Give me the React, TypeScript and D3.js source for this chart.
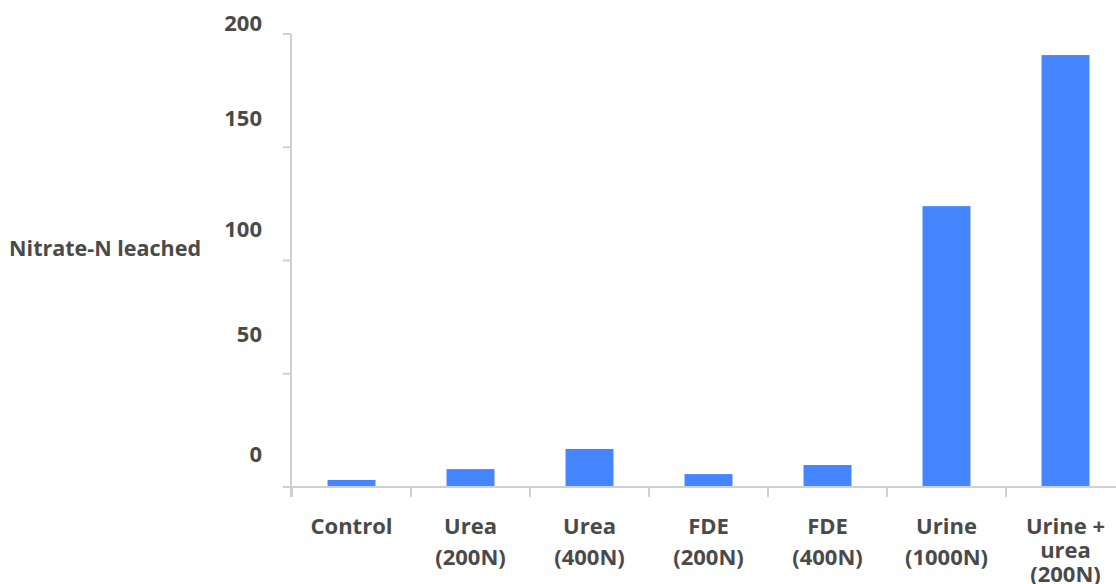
import React, { useEffect, useRef } from "react";
import * as d3 from "d3";

const categories = [
  ["Control"],
  ["Urea", "(200N)"],
  ["Urea", "(400N)"],
  ["FDE", "(200N)"],
  ["FDE", "(400N)"],
  ["Urine", "(1000N)"],
  ["Urine +", "urea", "(200N)"],
];
const values = [3.1, 7.9, 16.8, 5.7, 9.7, 124, 190.7];
const yTicks = [0, 50, 100, 150, 200];
const yTitle = "Nitrate-N leached";

const W = 1116;
const H = 584;
const FONT = "'Open Sans', 'DejaVu Sans', sans-serif";
const TEXT = "#4a4a4a";
const AXIS = "#d0d0d0";
const BAR = "#4586ff";
// label vertical offsets (layout) relative to tick position
const yLabelOffset: Record<number, number> = { 0: -34, 50: -41, 100: -33, 150: -30, 200: -12 };

export default function App() {
  const ref = useRef<SVGSVGElement>(null);
  useEffect(() => {
    const svg = d3.select(ref.current);
    svg.selectAll("*").remove();
    const x0 = 292;
    const step = 119;
    const x = d3
      .scaleBand<number>()
      .domain(d3.range(categories.length))
      .range([x0, x0 + step * categories.length])
      .paddingInner(0.597)
      .paddingOuter(0.2985);
    const y = d3.scaleLinear().domain([0, 200]).range([487, 34]);

    // y axis line
    svg.append("line").attr("x1", 291).attr("x2", 291).attr("y1", y(200)).attr("y2", 497)
      .attr("stroke", AXIS).attr("stroke-width", 2);
    // y ticks
    svg.selectAll(".yt").data(yTicks).enter().append("line")
      .attr("x1", 283).attr("x2", 291).attr("y1", (d) => y(d)).attr("y2", (d) => y(d))
      .attr("stroke", AXIS).attr("stroke-width", 2);
    svg.selectAll(".yl").data(yTicks).enter().append("text")
      .attr("x", 262).attr("y", (d) => y(d) + yLabelOffset[d])
      .attr("text-anchor", "end").attr("dominant-baseline", "central")
      .attr("font-family", FONT).attr("font-weight", 700).attr("font-size", 22)
      .attr("fill", TEXT).text((d) => String(d));

    // bars
    svg.selectAll(".bar").data(values).enter().append("rect")
      .attr("x", (_, i) => x(i)!).attr("width", x.bandwidth())
      .attr("y", (d) => y(d)).attr("height", (d) => y(0) - y(d))
      .attr("fill", BAR);

    // x axis
    svg.append("line").attr("x1", 283).attr("x2", W).attr("y1", y(0)).attr("y2", y(0))
      .attr("stroke", AXIS).attr("stroke-width", 2);
    const boundaries = d3.range(categories.length).map((i) => x0 + step * i);
    svg.selectAll(".xt").data(boundaries).enter().append("line")
      .attr("x1", (d) => d).attr("x2", (d) => d).attr("y1", y(0)).attr("y2", y(0) + 10)
      .attr("stroke", AXIS).attr("stroke-width", 2);

    // x labels
    categories.forEach((lines, i) => {
      const cx = x(i)! + x.bandwidth() / 2;
      const gap = lines.length > 2 ? 24 : 31;
      lines.forEach((ln, j) => {
        svg.append("text").attr("x", cx).attr("y", 525 + j * gap)
          .attr("text-anchor", "middle").attr("dominant-baseline", "central")
          .attr("font-family", FONT).attr("font-weight", 700).attr("font-size", 22)
          .attr("fill", TEXT).text(ln);
      });
    });

    // y title
    svg.append("text").attr("x", 201).attr("y", 247)
      .attr("text-anchor", "end").attr("dominant-baseline", "central")
      .attr("font-family", FONT).attr("font-weight", 700).attr("font-size", 21.5)
      .attr("fill", TEXT).text(yTitle);
  }, []);
  return (
    <svg ref={ref} width={W} height={H}
      style={{ position: "absolute", left: 0, top: 0, background: "#fff" }} />
  );
}
